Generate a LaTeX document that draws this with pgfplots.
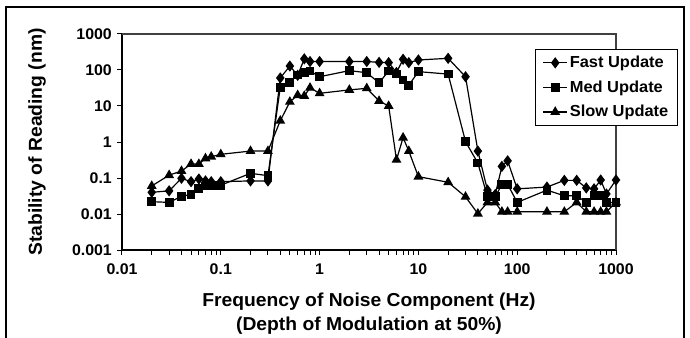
\documentclass[border=0pt]{standalone}
\usepackage{fontspec}
\setmainfont{Liberation Sans}[FakeStretch=1.03]
\usepackage{pgfplots}
\pgfplotsset{compat=1.18}
\usepackage{pgfplotstable}

\pgfplotstableread{
f v
0.02 0.040
0.03 0.044
0.04 0.098
0.05 0.079
0.06 0.094
0.07 0.083
0.08 0.079
0.1 0.079
0.2 0.083
0.3 0.083
0.4 60
0.5 129
0.6 71
0.7 204
0.8 172
1 172
2 172
3 172
4 163
5 160
6 85
7 198
8 160
10 190
20 211
30 65
40 0.56
50 0.046
60 0.035
70 0.21
80 0.30
100 0.050
200 0.056
300 0.086
400 0.086
500 0.053
600 0.050
700 0.088
800 0.036
1000 0.088
}\fast

\pgfplotstableread{
f v
0.02 0.022
0.03 0.021
0.04 0.031
0.05 0.035
0.06 0.052
0.07 0.060
0.08 0.062
0.1 0.063
0.2 0.135
0.3 0.116
0.4 33
0.5 46
0.6 73
0.7 85
0.8 94
1 65
2 96
3 84
4 44
5 94
6 77
7 53
8 38
10 90
20 77
30 1.02
40 0.26
50 0.030
60 0.030
70 0.067
80 0.067
100 0.021
200 0.046
300 0.032
400 0.032
500 0.021
600 0.032
700 0.032
800 0.021
1000 0.021
}\med

\pgfplotstableread{
f v
0.02 0.060
0.03 0.12
0.04 0.156
0.05 0.245
0.06 0.245
0.07 0.35
0.08 0.39
0.1 0.455
0.2 0.56
0.3 0.56
0.4 3.9
0.5 13
0.6 20
0.7 19
0.8 32
1 22.5
2 28
3 31
4 13.8
5 10
6 0.32
7 1.32
8 0.56
10 0.109
20 0.076
30 0.030
40 0.0102
50 0.021
60 0.021
70 0.0115
80 0.0115
100 0.0115
200 0.0115
300 0.0115
400 0.021
500 0.0115
600 0.0115
700 0.0115
800 0.0115
1000 0.021
}\slow

\begin{document}
\begin{tikzpicture}
\useasboundingbox (-122bp,-88bp) rectangle (568bp,250bp);
\draw[line width=2bp] (-116bp,-100bp) -- (-116bp,243bp) -- (562bp,243bp) -- (562bp,-100bp);
\begin{axis}[
  at={(0,0)}, anchor=south west,
  scale only axis, width=494bp, height=216bp,
  xmode=log, ymode=log,
  xmin=0.01, xmax=1000, ymin=0.001, ymax=1000,
  axis lines*=left,
  axis line style={black, line width=1.8bp},
  xtick={0.01,0.1,1,10,100,1000},
  xticklabels={\textbf{0.01},\textbf{0.1},\textbf{1},\textbf{10},\textbf{100},\textbf{1000}},
  ytick={0.001,0.01,0.1,1,10,100,1000},
  yticklabels={\textbf{0.001},\textbf{0.01},\textbf{0.1},\textbf{1},\textbf{10},\textbf{100},\textbf{1000}},
  yminorticks=false,
  tick align=outside,
  major tick length=5bp, minor tick length=4.5bp,
  tick style={black, line width=1bp},
  ticklabel style={font=\fontsize{15.5}{17}\selectfont\bfseries},
  xticklabel style={inner sep=0pt, yshift=-9bp},
  yticklabel style={inner sep=0pt, xshift=-5bp},
  xlabel={Frequency of Noise Component (Hz)\\(Depth of Modulation at 50\%)},
  xlabel style={at={(axis description cs:0.5,-0.2)}, anchor=north, inner sep=0pt,
     align=center, font=\fontsize{18.8}{23.5}\selectfont\bfseries},
  ylabel={Stability of Reading (nm)},
  ylabel style={at={(axis description cs:-0.172,0.5)}, anchor=center, inner sep=0pt,
     font=\fontsize{18.8}{20}\selectfont\bfseries},
  clip=false,
  legend style={at={(axis description cs:0.836,0.932)}, anchor=north west, draw=black, line width=1.3bp,
     font=\fontsize{16}{18}\selectfont\bfseries, row sep=7.5bp, inner xsep=7bp, inner ysep=5bp,
     cells={anchor=west}},
  legend image code/.code={\draw[mark repeat=2,mark phase=2] plot coordinates {(0bp,0bp)(12bp,0bp)(24bp,0bp)};},
]
\draw[black!75, line width=1.5bp] (rel axis cs:0,1) -- (rel axis cs:1,1) -- (rel axis cs:1,0);
\addplot[black, line width=1.2bp, mark=diamond*, mark size=4.7bp, mark options={solid, fill=black}] table[x=f,y=v]{\fast};
\addlegendentry{Fast Update}
\addplot[black, line width=1.2bp, mark=square*, mark size=3.8bp, mark options={solid, fill=black}] table[x=f,y=v]{\med};
\addlegendentry{Med Update}
\addplot[black, line width=1.2bp, mark=triangle*, mark size=4.5bp, mark options={solid, fill=black}] table[x=f,y=v]{\slow};
\addlegendentry{Slow Update}
\end{axis}
\end{tikzpicture}
\end{document}
